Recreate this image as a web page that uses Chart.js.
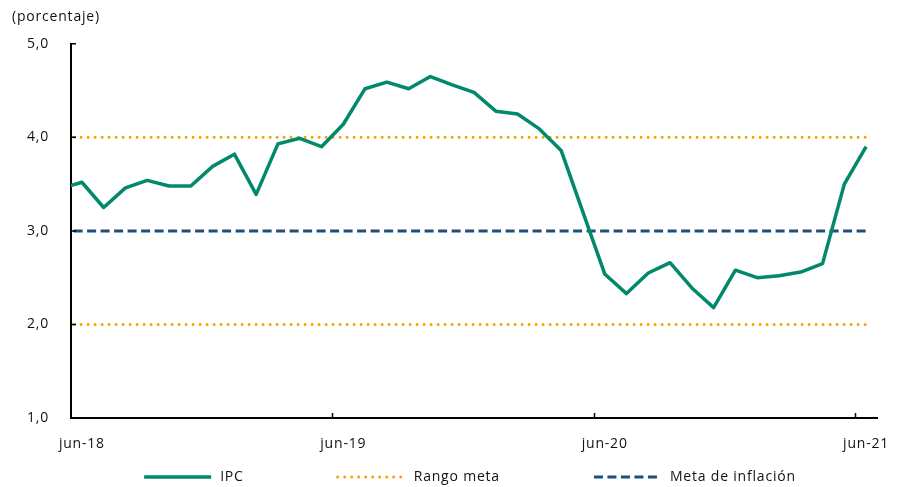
<!DOCTYPE html>
<html lang="es">
<head>
<meta charset="utf-8">
<title>IPC y rango meta</title>
<script src="https://cdn.jsdelivr.net/npm/chart.js@4.4.1/dist/chart.umd.min.js"></script>
<style>
  html, body { margin: 0; padding: 0; background: #fff; }
  #contenedor { width: 897px; height: 487px; }
</style>
</head>
<body>
<div id="contenedor"><canvas id="grafico"></canvas></div>
<script>
// --- DATOS ---
// may-18 queda fuera del eje; solo sirve para que la linea arranque en el borde
const meses = [
  'may-18', 'jun-18', 'jul-18', 'ago-18', 'sep-18', 'oct-18', 'nov-18', 'dic-18',
  'ene-19', 'feb-19', 'mar-19', 'abr-19', 'may-19', 'jun-19', 'jul-19', 'ago-19', 'sep-19', 'oct-19', 'nov-19', 'dic-19',
  'ene-20', 'feb-20', 'mar-20', 'abr-20', 'may-20', 'jun-20', 'jul-20', 'ago-20', 'sep-20', 'oct-20', 'nov-20', 'dic-20',
  'ene-21', 'feb-21', 'mar-21', 'abr-21', 'may-21', 'jun-21'
];
const ipc = [
  3.45, 3.52, 3.25, 3.46, 3.54, 3.48, 3.48, 3.69,
  3.82, 3.39, 3.93, 3.99, 3.90, 4.14, 4.52, 4.59, 4.52, 4.65, 4.56, 4.48,
  4.28, 4.25, 4.09, 3.86, 3.20, 2.54, 2.33, 2.55, 2.66, 2.39, 2.18, 2.58,
  2.50, 2.52, 2.56, 2.65, 3.50, 3.90
];
const metaInflacion = 3.0;
const rangoMeta = [2.0, 4.0];
const marcasY = [1, 2, 3, 4, 5];

// --- ESTILO ---
const fuente = { family: "'Open Sans', sans-serif", size: 14 };
const colorTexto = '#111111';
const verde = '#00896B';
const naranja = '#F2A500';
const azul = '#1F4E7A';

Chart.defaults.font.family = fuente.family;
Chart.defaults.font.size = fuente.size;
Chart.defaults.color = colorTexto;

// lineas horizontales constantes en todo el periodo
const lineaFija = v => meses.map(() => v);

// --- PLUGINS ---
const espaciado = {
  id: 'espaciado',
  beforeLayout(chart) { chart.ctx.letterSpacing = '0.8px'; },
  beforeDraw(chart) { chart.ctx.letterSpacing = '0.8px'; }
};

// marcas cortas hacia dentro en ambos ejes
const marcasEjes = {
  id: 'marcasEjes',
  afterDatasetsDraw(chart) {
    const { ctx, chartArea, scales: { x, y } } = chart;
    const paso = x.getPixelForValue(2) - x.getPixelForValue(1);
    ctx.save();
    ctx.strokeStyle = '#000';
    ctx.lineWidth = 1.5;
    ctx.beginPath();
    meses.forEach((m, i) => {
      if (i > 1 && m.startsWith('jun')) {
        const px = Math.round(x.getPixelForValue(i) - paso / 2) + 0.5;
        ctx.moveTo(px, chartArea.bottom);
        ctx.lineTo(px, chartArea.bottom - 5);
      }
    });
    marcasY.slice(1).forEach(v => {
      const py = y.getPixelForValue(v);
      ctx.moveTo(chartArea.left, py);
      ctx.lineTo(chartArea.left + 5, py);
    });
    ctx.stroke();
    ctx.restore();
  }
};

// leyenda propia: una entrada por etiqueta
const leyenda = {
  id: 'leyenda',
  afterDraw(chart) {
    const { ctx, chartArea } = chart;
    const vistos = new Set();
    const items = chart.data.datasets.filter(d => {
      if (vistos.has(d.label)) return false;
      vistos.add(d.label);
      return true;
    });
    const largo = 67, hueco = 9, separacion = 94;
    ctx.save();
    ctx.letterSpacing = '0.8px';
    ctx.font = `${fuente.size}px ${fuente.family}`;
    const anchos = items.map(d => largo + hueco + ctx.measureText(d.label).width);
    const total = anchos.reduce((a, b) => a + b, 0) + separacion * (items.length - 1);
    let xx = (chartArea.left + chartArea.right) / 2 - 4 - total / 2;
    const yy = chart.height - 10;
    items.forEach((d, i) => {
      ctx.beginPath();
      ctx.strokeStyle = d.borderColor;
      ctx.lineWidth = d.borderWidth;
      ctx.lineCap = d.borderCapStyle || 'butt';
      ctx.setLineDash(d.borderDash || []);
      ctx.moveTo(xx, yy);
      ctx.lineTo(xx + largo, yy);
      ctx.stroke();
      ctx.setLineDash([]);
      ctx.fillStyle = colorTexto;
      ctx.textBaseline = 'middle';
      ctx.fillText(d.label, xx + largo + hueco, yy);
      xx += anchos[i] + separacion;
    });
    ctx.restore();
  }
};

// --- GRAFICO ---
const ctx = document.getElementById('grafico').getContext('2d');
new Chart(ctx, {
  type: 'line',
  data: {
    labels: meses,
    datasets: [
      {
        label: 'IPC',
        data: ipc,
        borderColor: verde,
        borderWidth: 3.5,
        borderJoinStyle: 'round'
      },
      {
        label: 'Rango meta',
        data: lineaFija(rangoMeta[1]),
        borderColor: naranja,
        borderWidth: 3,
        borderDash: [0, 7],
        borderCapStyle: 'round'
      },
      {
        label: 'Rango meta',
        data: lineaFija(rangoMeta[0]),
        borderColor: naranja,
        borderWidth: 3,
        borderDash: [0, 7],
        borderCapStyle: 'round'
      },
      {
        label: 'Meta de inflación',
        data: lineaFija(metaInflacion),
        borderColor: azul,
        borderWidth: 3,
        borderDash: [9, 4.5]
      }
    ]
  },
  options: {
    responsive: true,
    maintainAspectRatio: false,
    devicePixelRatio: 1,
    animation: false,
    elements: {
      point: { radius: 0, hoverRadius: 0 },
      line: { tension: 0, fill: false }
    },
    layout: { padding: { left: 12, right: 20, top: 0, bottom: 34 } },
    plugins: {
      legend: { display: false },
      tooltip: { enabled: false },
      title: {
        display: true,
        text: '(porcentaje)',
        align: 'start',
        color: colorTexto,
        font: { size: 14, weight: 'normal' },
        padding: { top: 9, bottom: 18 }
      }
    },
    scales: {
      x: {
        type: 'category',
        min: 1,
        offset: true,
        grid: { display: true, drawOnChartArea: false, drawTicks: false, offset: true },
        border: { display: true, color: '#000', width: 2 },
        afterFit(scale) {
          scale.height = 35;
          scale.paddingLeft = 0;
          scale.paddingRight = 0;
        },
        ticks: {
          autoSkip: false,
          maxRotation: 0,
          padding: 18,
          color: colorTexto,
          callback(valor) {
            const m = this.getLabelForValue(valor);
            return m.startsWith('jun') ? m : '';
          }
        }
      },
      y: {
        min: marcasY[0],
        max: marcasY[marcasY.length - 1],
        grid: { display: true, drawOnChartArea: false, drawTicks: false },
        border: { display: true, color: '#000', width: 2 },
        afterFit(scale) {
          scale.width = 59;
          scale.paddingTop = 0;
          scale.paddingBottom = 0;
        },
        ticks: {
          stepSize: 1,
          padding: 22,
          color: colorTexto,
          callback: v => v.toFixed(1).replace('.', ',')
        }
      }
    }
  },
  plugins: [espaciado, marcasEjes, leyenda]
});
</script>
</body>
</html>
